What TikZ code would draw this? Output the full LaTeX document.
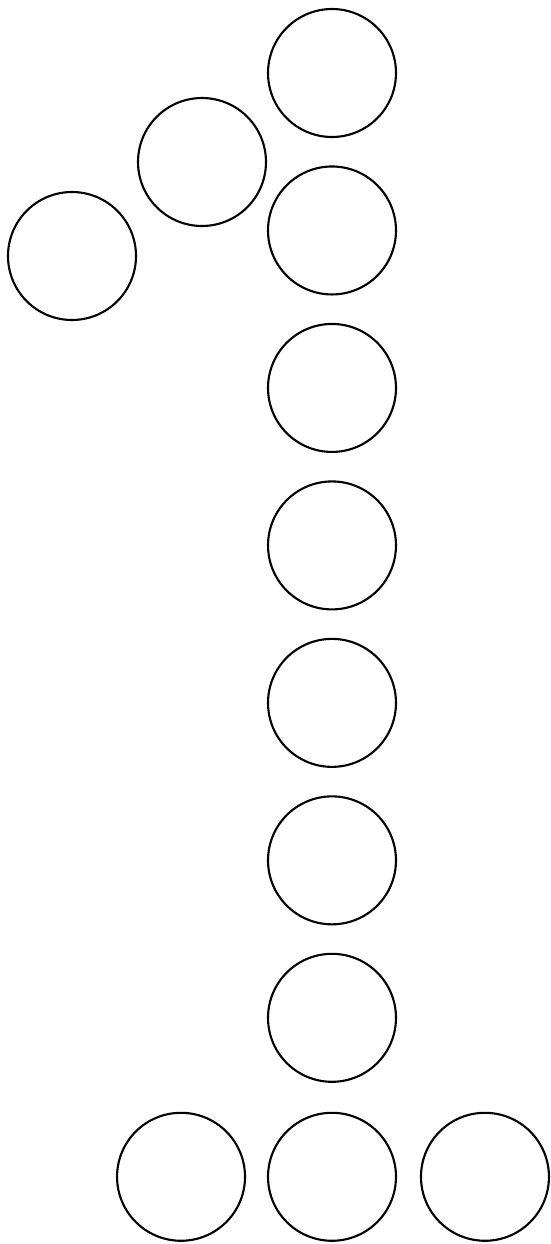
\documentclass[tikz,border=0pt]{standalone}
\usepackage{tikz}
\usetikzlibrary{positioning}

\begin{document}
\begin{tikzpicture}[
      x=0.02cm, y=-0.02cm,
      node distance=5.9mm,
      ball/.style={
        circle,
        draw,
        line width=1.2pt,
        minimum size=2.56cm,
        inner sep=0pt,
        outer sep=0pt
      }
    ]
    \useasboundingbox (0,0) rectangle (551,1244);
    % stem of the one
    \node[ball] (s1) at (332,73) {};
    \node[ball, below=of s1] (s2) {};
    \node[ball, below=of s2] (s3) {};
    \node[ball, below=of s3] (s4) {};
    \node[ball, below=of s4] (s5) {};
    \node[ball, below=of s5] (s6) {};
    \node[ball, below=of s6] (s7) {};
    % flag
    \node[ball] (f1) at (202,162) {};
    \node[ball] (f2) at (72,256) {};
    % foot
    \node[ball, below=6.2mm of s7] (b2) {};
    \node[ball, left=4.6mm of b2] (b1) {};
    \node[ball, right=5mm of b2] (b3) {};
  \end{tikzpicture}
\end{document}
